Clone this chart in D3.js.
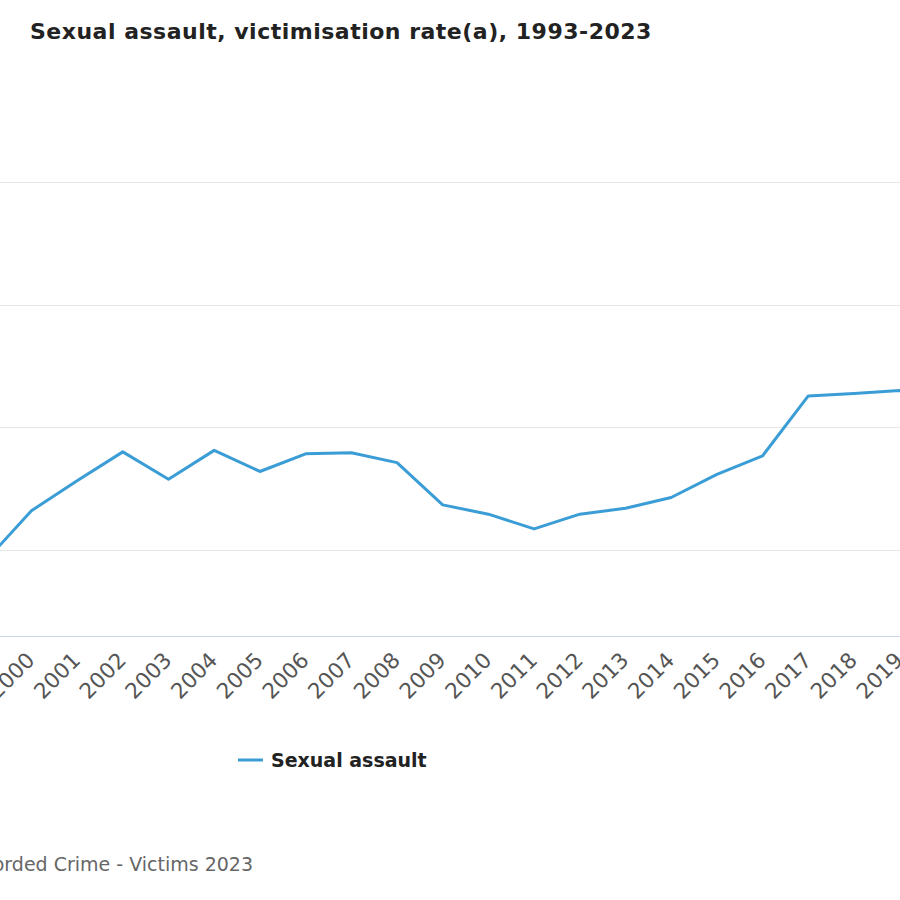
<!DOCTYPE html>
<html>
<head>
<meta charset="utf-8">
<script src="https://cdn.jsdelivr.net/npm/d3@7"></script>
<style>
  body { margin: 0; background: #fff; }
  svg { display: block; }
</style>
</head>
<body>
<svg id="chart" width="900" height="900"></svg>
<script>
// years on the x axis
var years = [1993, 1994, 1995, 1996, 1997, 1998, 1999, 2000, 2001, 2002,
             2003, 2004, 2005, 2006, 2007, 2008, 2009, 2010, 2011, 2012,
             2013, 2014, 2015, 2016, 2017, 2018, 2019, 2020, 2021, 2022, 2023];
// victims per 100,000 people
var rates = [78.5, 80.9, 76.0, 79.6, 75.8, 76.6, 72.8, 83.0, 89.1, 95.0,
             89.4, 95.3, 91.0, 94.6, 94.8, 92.8, 84.2, 82.3, 79.3, 82.3,
             83.5, 85.7, 90.4, 94.2, 106.4, 106.9, 107.5, 104.6, 119.0, 120.1, 126.0];
var gridValues = [75, 100, 125, 150];
var seriesName = "Sexual assault";
var titleText = "Sexual assault, victimisation rate(a), 1993-2023";
var sourceText = "Source: ABS, Recorded Crime - Victims 2023";

var svg = d3.select("#chart");

var x = d3.scalePoint()
    .domain(years)
    .range([-288.5, 1082.5]);

var y = d3.scaleLinear()
    .domain([57.47, 150])
    .range([636, 182]);

// gridlines
svg.append("g")
  .selectAll("line")
  .data(gridValues)
  .enter().append("line")
    .attr("x1", 0)
    .attr("x2", 900)
    .attr("y1", function(d) { return Math.round(y(d)) + 0.5; })
    .attr("y2", function(d) { return Math.round(y(d)) + 0.5; })
    .attr("stroke", "#e6e6e6")
    .attr("stroke-width", 1);

// x axis
var xAxis = d3.axisBottom(x).tickSize(0).tickPadding(0);
var gx = svg.append("g")
    .attr("transform", "translate(0," + 636.5 + ")")
    .call(xAxis);
gx.select(".domain").remove();
gx.append("line")
    .attr("x1", 0).attr("x2", 900)
    .attr("stroke", "#ccd6eb").attr("stroke-width", 1);
gx.selectAll(".tick text")
    .attr("font-family", "DejaVu Sans, sans-serif")
    .attr("font-size", 21.5)
    .attr("fill", "#555")
    .attr("text-anchor", "end")
    .attr("dy", 0)
    .attr("y", 0)
    .attr("transform", "translate(4,25) rotate(-45)");

// line
var line = d3.line()
    .x(function(d, i) { return x(years[i]); })
    .y(function(d) { return y(d); });

svg.append("path")
    .datum(rates)
    .attr("d", line)
    .attr("fill", "none")
    .attr("stroke", "#3b9dd5")
    .attr("stroke-width", 3)
    .attr("stroke-linejoin", "round")
    .attr("stroke-linecap", "round");

// title
svg.append("text")
    .attr("x", 30)
    .attr("y", 39)
    .attr("font-family", "DejaVu Sans, sans-serif")
    .attr("font-weight", "bold")
    .attr("font-size", 22)
    .attr("letter-spacing", 0.5)
    .attr("fill", "#222")
    .text(titleText);

// legend
var legend = svg.append("g").attr("transform", "translate(238,760)");
legend.append("line")
    .attr("x1", 0).attr("x2", 25)
    .attr("stroke", "#3b9dd5").attr("stroke-width", 3);
legend.append("text")
    .attr("x", 33)
    .attr("y", 7)
    .attr("font-family", "DejaVu Sans, sans-serif")
    .attr("font-weight", "bold")
    .attr("font-size", 19)
    .attr("fill", "#222")
    .text(seriesName);

// source note
svg.append("text")
    .attr("x", 253)
    .attr("y", 871)
    .attr("text-anchor", "end")
    .attr("font-family", "DejaVu Sans, sans-serif")
    .attr("font-size", 19)
    .attr("fill", "#666")
    .text(sourceText);
</script>
</body>
</html>
